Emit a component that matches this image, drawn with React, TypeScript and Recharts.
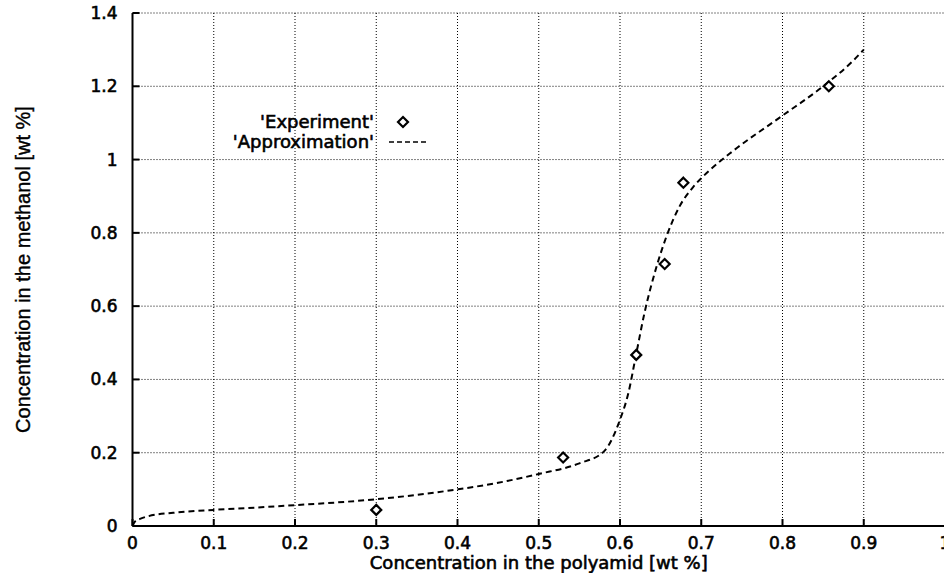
import {
  ComposedChart,
  CartesianGrid,
  Line,
  Scatter,
  XAxis,
  YAxis,
  Legend,
  Label,
} from "recharts";

// Measured points ("Experiment")
const expX = [0.3, 0.53, 0.62, 0.655, 0.678, 0.857];
const expY = [0.044, 0.187, 0.467, 0.715, 0.937, 1.2];

// Fitted curve ("Approximation")
const approxX = [
  0, 0.003, 0.01, 0.02, 0.05, 0.1, 0.15, 0.2, 0.25, 0.3, 0.35, 0.4, 0.45, 0.5,
  0.55, 0.58, 0.6, 0.61, 0.62, 0.63, 0.645, 0.657, 0.673, 0.69, 0.71, 0.74,
  0.8, 0.85, 0.887, 0.9,
];
const approxY = [
  0, 0.012, 0.02, 0.027, 0.036, 0.044, 0.05, 0.057, 0.064, 0.073, 0.085, 0.1,
  0.118, 0.142, 0.171, 0.203, 0.29, 0.36, 0.47, 0.58, 0.708, 0.789, 0.871,
  0.925, 0.97, 1.025, 1.12, 1.2, 1.27, 1.3,
];

const xTicks = [0, 0.1, 0.2, 0.3, 0.4, 0.5, 0.6, 0.7, 0.8, 0.9, 1];
const yTicks = [0, 0.2, 0.4, 0.6, 0.8, 1, 1.2, 1.4];

const expData = expX.map((x, i) => ({ x, y: expY[i] }));
const approxData = approxX.map((x, i) => ({ x, y: approxY[i] }));

const TICK_FONT = "'DejaVu Sans', sans-serif";

function Diamond(props: { cx?: number; cy?: number }) {
  const { cx, cy } = props;
  if (cx == null || cy == null) return <g />;
  const r = 5;
  return (
    <polygon
      points={`${cx},${cy - r} ${cx + r},${cy} ${cx},${cy + r} ${cx - r},${cy}`}
      fill="#fff"
      stroke="#000"
      strokeWidth={2.2}
    />
  );
}

function LegendBox() {
  const row = {
    display: "flex",
    alignItems: "center",
    height: 20,
  } as const;
  const text = {
    width: 174,
    textAlign: "right",
    fontFamily: TICK_FONT,
    fontSize: 18,
    color: "#000",
    lineHeight: "20px",
    WebkitTextStroke: "0.6px #000",
  } as const;
  return (
    <div>
      <div style={row}>
        <span style={text}>'Experiment'</span>
        <svg width={60} height={20}>
          <polygon
            points="29,5 34,10 29,15 24,10"
            fill="#fff"
            stroke="#000"
            strokeWidth={2.2}
          />
        </svg>
      </div>
      <div style={row}>
        <span style={text}>'Approximation'</span>
        <svg width={60} height={20}>
          <line
            x1={15}
            x2={53}
            y1={10}
            y2={10}
            stroke="#000"
            strokeWidth={1.5}
            strokeDasharray="5 3"
          />
        </svg>
      </div>
    </div>
  );
}

export default function App() {
  const tickStyle = {
    fill: "#000",
    fontSize: 17,
    fontFamily: TICK_FONT,
    stroke: "#000",
    strokeWidth: 0.6,
  };
  const axisLine = { stroke: "#000", strokeWidth: 2 };
  const tickLine = { stroke: "#000", strokeWidth: 2 };

  return (
    <div
      style={{
        position: "absolute",
        left: 0,
        top: 0,
        width: 944,
        height: 573,
        overflow: "hidden",
        background: "#fff",
      }}
    >
      <ComposedChart
        width={960}
        height={573}
        margin={{ top: 13, right: 15, bottom: 0, left: 0 }}
      >
        <CartesianGrid
          stroke="#000"
          strokeWidth={1}
          strokeDasharray="1 2"
          horizontalValues={yTicks}
          verticalValues={xTicks}
        />
        <XAxis
          dataKey="x"
          type="number"
          domain={[0, 1]}
          ticks={xTicks}
          interval={0}
          height={47}
          tick={tickStyle}
          tickSize={-7}
          tickMargin={18}
          axisLine={axisLine}
          tickLine={tickLine}
          allowDataOverflow
        >
          <Label
            value="Concentration in the polyamid [wt %]"
            position="insideBottom"
            offset={4}
            style={{
              fill: "#000",
              fontSize: 18,
              fontFamily: TICK_FONT,
              stroke: "#000",
              strokeWidth: 0.6,
            }}
          />
        </XAxis>
        <XAxis
          xAxisId="top"
          orientation="top"
          type="number"
          domain={[0, 1]}
          ticks={xTicks}
          height={0}
          tick={false}
          tickSize={-7}
          axisLine={axisLine}
          tickLine={tickLine}
        />
        <YAxis
          type="number"
          domain={[0, 1.4]}
          ticks={yTicks}
          interval={0}
          width={132.5}
          tick={tickStyle}
          tickSize={-7}
          tickMargin={22}
          axisLine={axisLine}
          tickLine={tickLine}
          allowDataOverflow
        >
          <Label
            value="Concentration in the methanol [wt %]"
            angle={-90}
            position="insideLeft"
            offset={23}
            style={{
              fill: "#000",
              fontSize: 20,
              fontFamily: "'Liberation Sans', Arial, sans-serif",
              textAnchor: "middle",
              stroke: "#000",
              strokeWidth: 0.4,
            }}
          />
        </YAxis>
        <YAxis
          yAxisId="right"
          orientation="right"
          type="number"
          domain={[0, 1.4]}
          ticks={yTicks}
          width={0}
          tick={false}
          tickSize={-7}
          axisLine={axisLine}
          tickLine={tickLine}
        />
        <Legend
          layout="vertical"
          align="center"
          verticalAlign="middle"
          content={() => <LegendBox />}
          wrapperStyle={{ position: "absolute", top: 112, left: 200, width: 240 }}
        />
        <Line
          data={approxData}
          dataKey="y"
          type="monotone"
          stroke="#000"
          strokeWidth={2}
          strokeDasharray="6 4"
          dot={false}
          activeDot={false}
          isAnimationActive={false}
          legendType="none"
        />
        <Scatter
          data={expData}
          dataKey="y"
          shape={(p: { cx?: number; cy?: number }) => <Diamond {...p} />}
          isAnimationActive={false}
          legendType="none"
        />
      </ComposedChart>
    </div>
  );
}
